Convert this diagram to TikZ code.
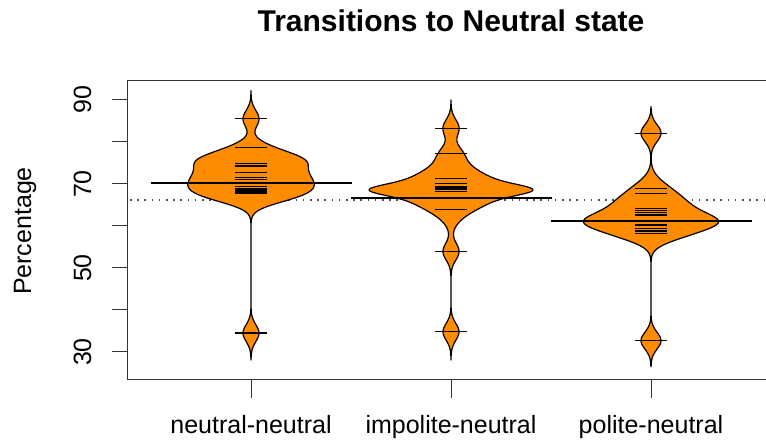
\documentclass[tikz,border=0pt]{standalone}
\usepackage{fontspec}
\setmainfont{Liberation Sans}
\definecolor{beanorange}{RGB}{255,140,0}
\tikzset{
  declare function={
    gs(\pos,\ctr,\bw)=exp(-min(9,(\pos-\ctr)*(\pos-\ctr)/(2*\bw*\bw)));
    wa(\h)=8*gs(\h,85.5,2)+10*gs(\h,78.8,1.8)+42*gs(\h,75.8,2)+42*gs(\h,72,2.2)+38*gs(\h,68.8,2)+20*gs(\h,66.5,1.8)+8*gs(\h,34.5,2);
    wb(\h)=8*gs(\h,83.3,2)+8*gs(\h,77.3,2)+30*gs(\h,68.6,1.2)+52*gs(\h,68.6,4)+8*gs(\h,53.9,2)+8*gs(\h,34.8,2);
    wc(\h)=10*gs(\h,82.1,2)+15*gs(\h,68.5,2.5)+30*gs(\h,64.5,2.5)+48*gs(\h,61,2)+25*gs(\h,58,2)+10*gs(\h,32.7,2);
  },
  bean/.style={draw=black, line width=1.2pt, fill=beanorange, line join=round},
  beanline/.style={black, line width=1.2pt},
  meanline/.style={black, line width=2.2pt},
  axisline/.style={black!80, line width=1pt},
  lab/.style={inner sep=0pt, font=\fontsize{25}{30}\selectfont},
}
\begin{document}
\begin{tikzpicture}[x=1pt, y=4.2pt]
\useasboundingbox (0,7.62) rectangle (766,113.81);
% frame and axes
\draw [axisline] (766,94.76) -- (127,94.76) -- (127,23.57) -- (766,23.57);
\draw [axisline] (112,30) -- (127,30) (112,40) -- (127,40) (112,50) -- (127,50) (112,60) -- (127,60) (112,70) -- (127,70) (112,80) -- (127,80) (112,90) -- (127,90);
\draw [axisline] (251,23.57) -- (251,19) (451,23.57) -- (451,19) (651,23.57) -- (651,19);
\node [lab, rotate=90, anchor=base] (y30) at (91,30) {30};
\node [lab, rotate=90, anchor=base] (y50) at (91,50) {50};
\node [lab, rotate=90, anchor=base] (y70) at (91,70) {70};
\node [lab, rotate=90, anchor=base] (y90) at (91,90) {90};
\node [lab, rotate=90, anchor=base] (ylab) at (31,58.8) {Percentage};
\node [lab, anchor=base] (nn) at (251,10.57) {neutral-neutral};
\node [lab, anchor=base] (in) at (451,10.57) {impolite-neutral};
\node [lab, anchor=base] (pn) at (651,10.57) {polite-neutral};
\node [inner sep=0pt, anchor=base, font=\fontsize{30}{36}\selectfont\bfseries] (title) at (451,106.4) {Transitions to Neutral state};
% overall mean
\draw [black!70, line width=1.3pt, dash pattern=on 1.6pt off 5.6pt] (130,66.2) -- (766,66.2);
% beans
\draw [bean] plot [domain=28.1:92.2, samples=257] ({251+wa(\x)},\x) -- plot [domain=92.2:28.1, samples=257] ({251-wa(\x)},\x) -- cycle;
\draw [bean] plot [domain=28.1:90, samples=257] ({451+wb(\x)},\x) -- plot [domain=90:28.1, samples=257] ({451-wb(\x)},\x) -- cycle;
\draw [bean] plot [domain=26.5:88.4, samples=257] ({651+wc(\x)},\x) -- plot [domain=88.4:26.5, samples=257] ({651-wc(\x)},\x) -- cycle;
% bean lines
\draw [beanline] (235,85.5) -- (267,85.5) (235,78.7) -- (267,78.7) (235,74.92) -- (267,74.92) (235,74.44) -- (267,74.44) (235,74.13) -- (267,74.13) (235,72.78) -- (267,72.78) (235,71.51) -- (267,71.51) (235,71.03) -- (267,71.03) (235,69.37) -- (267,69.37) (235,68.81) -- (267,68.81) (235,68.33) -- (267,68.33) (235,67.86) -- (267,67.86) (235,34.5) -- (267,34.5);
\draw [beanline] (435,83.3) -- (467,83.3) (435,77.3) -- (467,77.3) (435,71.35) -- (467,71.35) (435,70.2) -- (467,70.2) (435,69.3) -- (467,69.3) (435,68.8) -- (467,68.8) (435,68.3) -- (467,68.3) (435,64) -- (467,64) (435,53.9) -- (467,53.9) (435,34.8) -- (467,34.8);
\draw [beanline] (635,82.1) -- (667,82.1) (635,68.98) -- (667,68.98) (635,67.79) -- (667,67.79) (635,64.21) -- (667,64.21) (635,63.65) -- (667,63.65) (635,63.17) -- (667,63.17) (635,62.62) -- (667,62.62) (635,60.24) -- (667,60.24) (635,59.44) -- (667,59.44) (635,58.81) -- (667,58.81) (635,58.17) -- (667,58.17) (635,32.7) -- (667,32.7);
% bean means
\draw [meanline] (150.5,70.17) -- (351.5,70.17);
\draw [meanline] (350.5,66.75) -- (551.5,66.75);
\draw [meanline] (550.5,61.27) -- (751.5,61.27);
\end{tikzpicture}
\end{document}
